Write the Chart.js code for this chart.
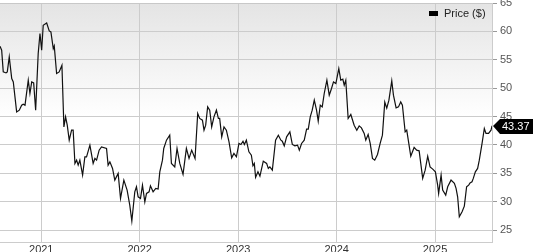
<!DOCTYPE html>
<html>
<head>
<meta charset="utf-8">
<script src="https://cdn.jsdelivr.net/npm/chart.js@4.4.1/dist/chart.umd.min.js"></script>
<style>
  html, body { margin: 0; padding: 0; background: #ffffff; }
  #wrap { width: 533px; height: 252px; }
</style>
</head>
<body>
<div id="wrap"><canvas id="c" width="533" height="252"></canvas></div>
<script>
// Decimal-year dates of the traced weekly closes
const dates = [
  2020.581, 2020.598, 2020.614, 2020.642, 2020.655, 2020.675, 2020.700, 2020.716, 2020.750, 2020.777,
  2020.801, 2020.817, 2020.835, 2020.868, 2020.885, 2020.903, 2020.923, 2020.943, 2020.969, 2020.987,
  2021.004, 2021.020, 2021.055, 2021.081, 2021.098, 2021.122, 2021.132, 2021.156, 2021.182, 2021.210,
  2021.230, 2021.247, 2021.264, 2021.284, 2021.308, 2021.324, 2021.342, 2021.359, 2021.375, 2021.392,
  2021.420, 2021.443, 2021.460, 2021.494, 2021.527, 2021.545, 2021.562, 2021.588, 2021.612, 2021.663,
  2021.679, 2021.697, 2021.724, 2021.747, 2021.781, 2021.805, 2021.839, 2021.872, 2021.899, 2021.920,
  2021.950, 2021.967, 2021.984, 2022.008, 2022.028, 2022.052, 2022.069, 2022.095, 2022.109, 2022.136,
  2022.163, 2022.187, 2022.204, 2022.231, 2022.244, 2022.272, 2022.305, 2022.322, 2022.356, 2022.379,
  2022.407, 2022.440, 2022.474, 2022.501, 2022.528, 2022.562, 2022.589, 2022.609, 2022.637, 2022.653,
  2022.670, 2022.690, 2022.711, 2022.731, 2022.754, 2022.779, 2022.799, 2022.812, 2022.833, 2022.856,
  2022.880, 2022.907, 2022.934, 2022.957, 2022.982, 2023.008, 2023.028, 2023.049, 2023.063, 2023.083,
  2023.109, 2023.134, 2023.150, 2023.164, 2023.177, 2023.201, 2023.221, 2023.255, 2023.289, 2023.306,
  2023.322, 2023.347, 2023.380, 2023.408, 2023.434, 2023.448, 2023.468, 2023.492, 2023.525, 2023.550,
  2023.576, 2023.603, 2023.621, 2023.644, 2023.671, 2023.695, 2023.712, 2023.732, 2023.752, 2023.773,
  2023.796, 2023.813, 2023.834, 2023.854, 2023.874, 2023.901, 2023.925, 2023.948, 2023.968, 2023.992,
  2024.022, 2024.042, 2024.063, 2024.077, 2024.093, 2024.117, 2024.144, 2024.178, 2024.205, 2024.229,
  2024.252, 2024.280, 2024.296, 2024.320, 2024.341, 2024.364, 2024.387, 2024.415, 2024.442, 2024.465,
  2024.489, 2024.509, 2024.531, 2024.560, 2024.577, 2024.604, 2024.628, 2024.651, 2024.668, 2024.696,
  2024.712, 2024.753, 2024.787, 2024.813, 2024.838, 2024.874, 2024.899, 2024.925, 2024.949, 2024.976,
  2025.003, 2025.026, 2025.036, 2025.061, 2025.077, 2025.108, 2025.128, 2025.162, 2025.196, 2025.213,
  2025.229, 2025.246, 2025.274, 2025.297, 2025.320, 2025.341, 2025.355, 2025.375, 2025.388, 2025.409,
  2025.432, 2025.449, 2025.477, 2025.500, 2025.517, 2025.543, 2025.568, 2025.578
];

// Price ($)
const prices = [
  57.38, 56.68, 52.86, 52.68, 52.86, 55.50, 51.70, 51.10, 45.82, 46.12,
  47.00, 47.18, 47.00, 51.40, 49.06, 51.10, 50.92, 46.12, 56.10, 59.62,
  56.68, 61.08, 61.48, 60.08, 59.90, 56.98, 57.44, 52.58, 52.86, 54.04,
  43.18, 44.94, 43.48, 40.84, 42.60, 42.60, 36.74, 37.32, 36.44, 37.32,
  34.68, 37.90, 37.90, 39.96, 36.74, 37.62, 37.32, 39.08, 39.66, 39.38,
  36.44, 37.02, 35.86, 33.80, 34.98, 30.58, 33.80, 32.04, 29.40, 26.58,
  31.74, 32.62, 30.86, 30.58, 32.92, 29.98, 31.46, 31.74, 32.80, 31.74,
  32.34, 32.22, 35.26, 37.32, 39.38, 40.84, 41.72, 36.74, 36.14, 39.38,
  36.74, 34.80, 39.38, 37.62, 39.08, 37.62, 45.54, 44.66, 44.36, 42.60,
  43.48, 46.70, 46.12, 43.18, 44.94, 46.12, 44.66, 44.66, 41.42, 43.18,
  42.60, 40.54, 37.72, 38.50, 37.90, 40.26, 40.08, 40.66, 40.08, 40.84,
  38.78, 38.20, 36.32, 36.74, 34.28, 35.26, 34.50, 37.14, 36.74, 35.86,
  36.14, 35.56, 40.84, 41.72, 40.84, 40.66, 39.84, 41.42, 42.30, 40.08,
  39.84, 39.96, 39.08, 40.26, 40.84, 42.78, 42.78, 44.94, 46.12, 47.88,
  46.12, 44.18, 47.00, 46.70, 49.06, 51.40, 48.76, 49.94, 51.10, 50.82,
  53.46, 51.40, 51.58, 50.52, 51.40, 44.66, 45.36, 43.48, 42.60, 43.36,
  43.00, 42.02, 40.84, 41.84, 40.26, 37.62, 37.32, 38.32, 40.26, 41.72,
  47.53, 46.47, 47.88, 51.28, 48.76, 46.52, 46.70, 47.58, 47.00, 42.30,
  42.60, 38.02, 39.56, 39.08, 38.96, 34.10, 35.56, 38.02, 36.14, 35.74,
  35.26, 32.92, 31.46, 34.68, 32.04, 31.16, 32.62, 33.80, 33.22, 32.34,
  30.86, 27.34, 28.22, 29.22, 32.62, 32.92, 33.32, 33.50, 34.10, 35.26,
  35.86, 37.32, 40.26, 42.90, 42.02, 42.02, 42.60, 43.37
];

const yearTicks = [2021, 2022, 2023, 2024, 2025];
const priceTicks = [25, 30, 35, 40, 45, 50, 55, 60, 65];
const seriesLabel = 'Price ($)';

const FONT = '"Liberation Sans", Arial, sans-serif';

const bgPlugin = {
  id: 'bg',
  beforeDraw(chart) {
    const { ctx, chartArea: a } = chart;
    const g = ctx.createLinearGradient(0, a.top, 0, a.bottom);
    g.addColorStop(0, '#e4e4e4');
    g.addColorStop(0.48, '#ffffff');
    g.addColorStop(1, '#ffffff');
    ctx.save();
    ctx.fillStyle = g;
    ctx.fillRect(a.left, a.top, a.right - a.left, a.bottom - a.top);
    ctx.restore();
  }
};

const overlayPlugin = {
  id: 'overlay',
  afterDraw(chart) {
    const { ctx, chartArea: a } = chart;
    ctx.save();
    // top border
    ctx.strokeStyle = '#c8c8c8';
    ctx.lineWidth = 1;
    ctx.beginPath();
    ctx.moveTo(a.left, a.top + 0.5);
    ctx.lineTo(a.right, a.top + 0.5);
    ctx.stroke();

    // legend
    ctx.font = '11px ' + FONT;
    ctx.textBaseline = 'middle';
    ctx.fillStyle = '#000';
    ctx.fillRect(429, 11, 9, 5);
    ctx.fillStyle = '#222';
    ctx.fillText(seriesLabel, 444, 14);

    // last value tag
    const yScale = chart.scales.y;
    const last = prices[prices.length - 1];
    const py = Math.round(yScale.getPixelForValue(last));
    const tipX = a.right + 1;
    ctx.fillStyle = '#000';
    ctx.beginPath();
    ctx.moveTo(tipX, py);
    ctx.lineTo(tipX + 7, py - 7);
    ctx.lineTo(533, py - 7);
    ctx.lineTo(533, py + 8);
    ctx.lineTo(tipX + 7, py + 8);
    ctx.closePath();
    ctx.fill();
    ctx.fillStyle = '#fff';
    ctx.textAlign = 'left';
    ctx.fillText(last.toFixed(2), tipX + 9, py + 1);
    ctx.restore();
  }
};

new Chart(document.getElementById('c'), {
  type: 'line',
  data: {
    datasets: [{
      label: seriesLabel,
      data: dates.map((d, i) => ({ x: d, y: prices[i] })),
      borderColor: '#111111',
      borderWidth: 1.2,
      pointRadius: 0,
      tension: 0,
      fill: false
    }]
  },
  options: {
    responsive: false,
    animation: false,
    layout: { padding: { top: 3, left: 0, right: 0, bottom: 0 } },
    plugins: { legend: { display: false }, tooltip: { enabled: false } },
    scales: {
      x: {
        type: 'linear',
        min: dates[0],
        max: dates[dates.length - 1],
        afterBuildTicks(s) { s.ticks = yearTicks.map(v => ({ value: v })); },
        afterFit(s) { s.height = 10; s.paddingLeft = 0; s.paddingRight = 0; },
        ticks: {
          callback: v => String(v),
          color: '#333',
          font: { family: FONT, size: 11 },
          padding: 1,
          maxRotation: 0,
          autoSkip: false
        },
        grid: { color: '#cccccc', drawTicks: false },
        border: { color: '#cccccc' }
      },
      y: {
        position: 'right',
        min: 22.9,
        max: 65,
        afterBuildTicks(s) { s.ticks = priceTicks.map(v => ({ value: v })); },
        afterFit(s) { s.width = 41; s.paddingTop = 0; s.paddingBottom = 0; },
        ticks: {
          color: '#555',
          font: { family: FONT, size: 11 },
          padding: 3
        },
        grid: { color: '#cccccc', tickLength: 5, tickColor: '#999' },
        border: { color: '#cccccc' }
      }
    }
  },
  plugins: [bgPlugin, overlayPlugin]
});
</script>
</body>
</html>
